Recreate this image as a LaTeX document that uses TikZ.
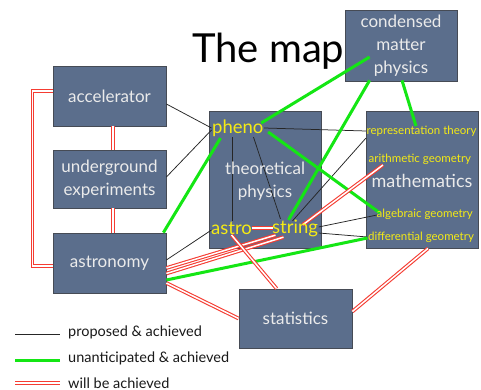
\documentclass[tikz,border=0pt]{standalone}
\usepackage{fontspec}
\setmainfont{Lato}
\usetikzlibrary{calc}
\pgfdeclarelayer{bg}\pgfdeclarelayer{fg}
\pgfsetlayers{bg,main,fg}
\definecolor{boxfill}{RGB}{91,110,140}
\definecolor{boxline}{RGB}{70,75,85}
\definecolor{boxtext}{RGB}{235,235,235}
\definecolor{ylab}{RGB}{245,235,20}
\definecolor{grn}{RGB}{20,230,20}
\definecolor{redl}{RGB}{245,60,50}
\definecolor{legtext}{RGB}{25,25,25}
\tikzset{
 box/.style={draw=boxline, fill=boxfill, line width=0.8pt, text=boxtext, inner sep=0pt, align=center, font=\fontsize{17}{23}\selectfont},
 boxlabel/.style={text=boxtext, inner sep=0pt, align=center, font=\fontsize{17}{23}\selectfont},
 ybig/.style={text=ylab, inner sep=0.5pt, font=\fontsize{18.5}{20}\selectfont},
 ysmall/.style={text=ylab, inner sep=0.5pt, anchor=west, font=\fontsize{11.5}{12}\selectfont},
 legtxt/.style={text=legtext, inner sep=0pt, anchor=west, font=\fontsize{14.5}{16}\selectfont},
 blk/.style={draw=black!85, line width=0.75pt},
 grnline/.style={draw=grn, line width=3pt},
 reddbl/.style={draw=redl, double=white, double distance=1.5pt, line width=1.1pt},
}
\begin{document}
\begin{tikzpicture}[x=1pt,y=-1pt]
\useasboundingbox (0,0) rectangle (481,390);
\begin{pgfonlayer}{bg}
\fill[white] (0,0) rectangle (481,390);
\node[box, minimum width=113pt, minimum height=60pt] (acc) at (109.5,96) {accelerator};
\node[box, minimum width=113pt, minimum height=58pt] (und) at (109.5,179) {underground\\experiments};
\node[box, minimum width=113pt, minimum height=60pt] (ast) at (109.5,263) {astronomy};
\node[box, minimum width=112pt, minimum height=137pt] (theo) at (265,179.5) {};
\node[box, minimum width=112pt, minimum height=71pt] (cond) at (401,45.5) {condensed\\matter\\physics};
\node[box, minimum width=112pt, minimum height=137pt] (math) at (422,179.5) {};
\node[box, minimum width=113pt, minimum height=59pt] (stat) at (295.5,318.5) {statistics};
\end{pgfonlayer}
\node[anchor=base west, inner sep=0pt, font=\fontsize{40}{40}\selectfont] (title) at (192,63) {The map};
\begin{pgfonlayer}{fg}
\node[boxlabel] (theolbl) at (265,181) {theoretical\\physics};
\node[boxlabel, font=\fontsize{18}{20}\selectfont] (mathlbl) at (422,181) {mathematics};
\node[ybig, anchor=west] (pheno) at (211.5,128) {pheno};
\node[ybig, anchor=west] (astro) at (210.5,228) {astro};
\node[ybig, anchor=west] (string) at (271.5,228) {string};
\node[ysmall] (rep) at (366,131) {representation theory};
\node[ysmall] (arith) at (368,159) {arithmetic geometry};
\node[ysmall] (alg) at (376,214) {algebraic geometry};
\node[ysmall] (diff) at (367.5,237) {differential geometry};
\end{pgfonlayer}
% black: proposed & achieved
\draw[blk] ($(acc.east)+(0,8)$) -- (pheno.west);
\draw[blk] ($(und.east)+(0,-2)$) -- ($(pheno.west)+(0,2)$);
\draw[blk] ($(ast.east)+(0,-3)$) -- ($(astro.west)+(1,2)$);
\draw[blk] ($(pheno.south west)+(21,0)$) -- ($(astro.north west)+(22,0)$);
\draw[blk] ($(pheno.south west)+(42,0)$) -- ($(string.north west)+(9,0)$);
\draw[blk] (pheno.east) -- (rep.west);
\draw[blk] ($(string.north west)+(21,2)$) -- ($(rep.west)+(0,7)$);
\draw[blk] ($(string.east)+(0,-1)$) -- ($(alg.west)+(1,1)$);
\draw[blk] ($(string.east)+(0,5)$) -- (diff.west);
% green: unanticipated & achieved
\draw[grnline] ($(ast.north east)+(-3,0)$) -- ($(pheno.south west)+(9,1)$);
\draw[grnline] ($(pheno.east)+(-3,-5)$) -- ($(cond.west)+(25,11.5)$);
\draw[grnline] ($(cond.south west)+(25,-1)$) -- ($(string.north west)+(17,1)$);
\draw[grnline] ($(cond.south)+(1,-1)$) -- ($(rep.north west)+(50,1)$);
\draw[grnline] ($(pheno.east)+(4,4)$) -- ($(alg.west)+(4,-1)$);
\draw[grnline] ($(ast.east)+(0,17)$) -- ($(diff.west)+(0,1)$);
% red: will be achieved
\draw[reddbl] ($(acc.west)+(0,-5)$) -- ++(-20,0) |- ($(ast.west)+(0,3)$);
\draw[reddbl] ($(acc.south)+(3.5,0)$) -- ($(und.north)+(3.5,0)$);
\draw[reddbl] ($(und.south)+(3.5,0)$) -- ($(ast.north)+(3.5,0)$);
\draw[reddbl] ($(astro.east)+(-1,0)$) -- ($(string.west)+(1,0)$);
\draw[reddbl] ($(ast.east)+(0,5)$) -- ($(string.south west)+(4,-2)$);
\draw[reddbl] ($(ast.east)+(0,10.5)$) -- ($(string.south west)+(12,0)$);
\draw[reddbl] ($(astro.south west)+(21,0)$) -- ($(stat.north west)+(38,0)$);
\draw[reddbl] ($(string.north east)+(-16,6)$) -- ($(arith.south west)+(15,0)$);
\draw[reddbl] ($(ast.east)+(0,20)$) -- (stat.west);
\draw[reddbl] ($(stat.east)+(0,-7)$) -- ($(math.south)+(6,0)$);
% legend
\coordinate (l1a) at (15,334); \coordinate (l1b) at (60,334);
\coordinate (l2a) at (15,360); \coordinate (l2b) at (60,360);
\coordinate (l3a) at (15,383); \coordinate (l3b) at (60,383);
\draw[blk] (l1a) -- (l1b);
\draw[grnline] (l2a) -- (l2b);
\draw[reddbl] (l3a) -- (l3b);
\node[legtxt] (t1) at (68,332) {proposed \& achieved};
\node[legtxt] (t2) at (68,358) {unanticipated \& achieved};
\node[legtxt] (t3) at (68,383) {will be achieved};
\end{tikzpicture}
\end{document}
